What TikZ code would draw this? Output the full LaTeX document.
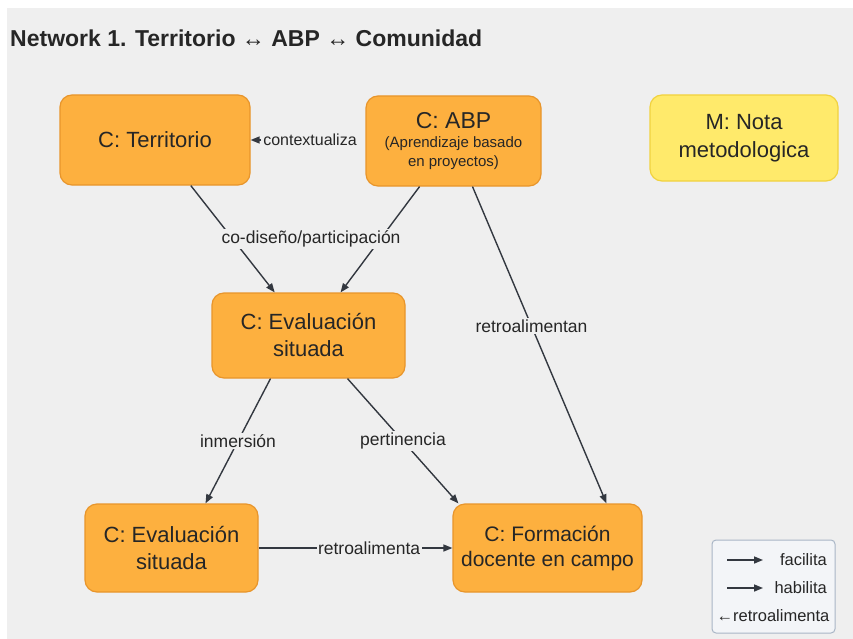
\documentclass[tikz,border=0pt]{standalone}
\usepackage{fontspec}
\setmainfont{Liberation Sans}
\usetikzlibrary{arrows.meta,calc}
\definecolor{bg}{HTML}{EFEFEF}
\definecolor{orf}{HTML}{FDB03F}
\definecolor{ord}{HTML}{E8952B}
\definecolor{yef}{HTML}{FFEA6B}
\definecolor{yed}{HTML}{F1D23F}
\definecolor{ink}{HTML}{262626}
\definecolor{edgec}{HTML}{333840}
\definecolor{legf}{HTML}{F3F5F8}
\definecolor{legd}{HTML}{A9B6C6}
\begin{document}
\begin{tikzpicture}[x=1pt,y=-1pt,
 concept/.style={draw=ord, fill=orf, line width=1.2pt, rounded corners=12pt, text=ink, align=center, inner sep=0pt, font=\fontsize{22}{27}\selectfont},
 memo/.style={concept, draw=yed, fill=yef},
 conn/.style={draw=edgec, line width=1.4pt, -{Triangle[length=9pt,width=7pt]}},
 lbl/.style={fill=bg, inner sep=1.5pt, text=ink, font=\fontsize{17.5}{20}\selectfont},
 legtxt/.style={inner sep=0pt, text=ink, font=\fontsize{16.5}{19}\selectfont},
]
\useasboundingbox (0,0) rectangle (853,639);
\fill[white] (0,0) rectangle (853,639);
\fill[bg] (7,8) rectangle (853,639);

\node[anchor=west, font=\bfseries\fontsize{23}{28}\selectfont, text=ink, inner sep=0pt] (title) at (10,38) {Network 1. Territorio ↔ ABP ↔ Comunidad};

\node[concept, minimum width=190pt, minimum height=90pt] (terr) at (155,140) {C: Territorio};
\node[concept, minimum width=175pt, minimum height=90pt, font=\fontsize{15}{19}\selectfont] (abp) at (453.5,141) {{\fontsize{23}{27}\selectfont C: ABP}\\(Aprendizaje basado\\en proyectos)};
\node[memo, minimum width=188pt, minimum height=86pt, font=\fontsize{22}{28}\selectfont] (nota) at (744,138) {M: Nota\\metodologica};
\node[concept, minimum width=193pt, minimum height=85pt, font=\fontsize{22}{27}\selectfont] (evm) at (308.5,335.5) {C: Evaluación\\situada};
\node[concept, minimum width=173pt, minimum height=88pt] (evb) at (171.5,548) {C: Evaluación\\situada};
\node[concept, minimum width=189pt, minimum height=88pt, font=\fontsize{21}{25}\selectfont] (form) at (547.5,548) {C: Formación\\docente en campo};

\node[lbl, font=\fontsize{16}{19}\selectfont, inner xsep=2pt] (lab0) at (310,140) {contextualiza};
\draw[conn] (lab0.west) -- (terr.east);
\draw[conn] (terr) -- (evm);
\draw[conn] (abp) -- (evm);
\node[lbl] (lab1) at (311,239) {co-diseño/participación};
\draw[conn] ($(abp.south)+(19,0)$) -- node[lbl, pos=0.44] (lab2) {retroalimentan} ($(form.north)+(59,0)$);
\draw[conn] ($(evm.south)+(-38,0)$) -- node[lbl] (lab3) {inmersión} ($(evb.north)+(34,0)$);
\draw[conn] ($(evm.south)+(39,0)$) -- node[lbl] (lab4) {pertinencia} ($(form.north west)+(6,0)$);
\draw[conn] (evb.east) -- node[lbl, pos=0.57] (lab5) {retroalimenta} (form.west);

\node[draw=legd, fill=legf, rounded corners=4pt, line width=1pt, minimum width=123pt, minimum height=93pt] (leg) at (773.5,586.5) {};
\coordinate (l1a) at (727,560);
\coordinate (l1b) at (763,560);
\coordinate (l2a) at (727,588);
\coordinate (l2b) at (763,588);
\draw[conn, line width=1.5pt] (l1a) -- (l1b);
\draw[conn, line width=1.5pt] (l2a) -- (l2b);
\node[legtxt, anchor=east] (lt1) at (827,560) {facilita};
\node[legtxt, anchor=east] (lt2) at (827,588) {habilita};
\node[legtxt] (lt3) at (773,616) {←retroalimenta};
\end{tikzpicture}
\end{document}
